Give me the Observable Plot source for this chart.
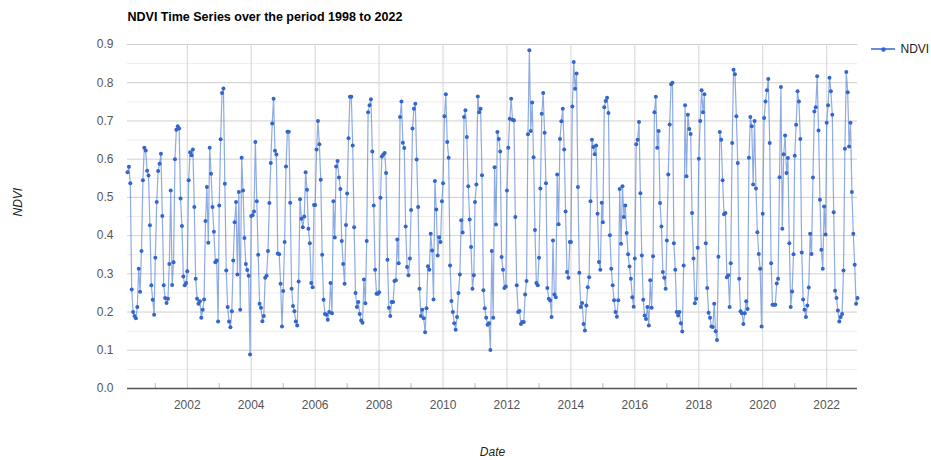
<!DOCTYPE html>
<html>
<head>
<meta charset="utf-8">
<script src="https://cdn.jsdelivr.net/npm/d3@7"></script>
<script src="https://cdn.jsdelivr.net/npm/@observablehq/plot@0.6"></script>
<style>
  html, body { margin: 0; padding: 0; background: #fff; }
  #chart svg { display: block; font-family: "Liberation Sans", Arial, sans-serif; }
</style>
</head>
<body>
<div id="chart"></div>
<script>
// 16-day composite NDVI values, one small array per year (composites start at day-of-year 1, 17, 33, ...)
const firstDoy2000 = 49; // series begins 18 Feb 2000
const ndvi2000 = [0.566, 0.58, 0.537, 0.259, 0.2, 0.19, 0.184, 0.213, 0.313, 0.253, 0.36, 0.545, 0.63, 0.623, 0.57, 0.557, 0.427, 0.27, 0.232, 0.193];
const ndvi2001 = [0.342, 0.488, 0.569, 0.588, 0.614, 0.451, 0.27, 0.237, 0.224, 0.235, 0.326, 0.518, 0.271, 0.33, 0.6, 0.677, 0.686, 0.68, 0.497, 0.425, 0.293, 0.27, 0.276];
const ndvi2002 = [0.307, 0.545, 0.618, 0.61, 0.625, 0.475, 0.287, 0.235, 0.222, 0.228, 0.185, 0.206, 0.233, 0.438, 0.527, 0.381, 0.63, 0.562, 0.475, 0.41, 0.33, 0.335, 0.175];
const ndvi2003 = [0.479, 0.652, 0.773, 0.785, 0.536, 0.309, 0.213, 0.175, 0.16, 0.202, 0.335, 0.435, 0.488, 0.298, 0.514, 0.206, 0.604, 0.518, 0.394, 0.326, 0.31, 0.295, 0.089];
const ndvi2004 = [0.451, 0.453, 0.463, 0.645, 0.49, 0.35, 0.222, 0.211, 0.176, 0.19, 0.29, 0.295, 0.36, 0.485, 0.59, 0.693, 0.758, 0.622, 0.612, 0.353, 0.351, 0.274, 0.162];
const ndvi2005 = [0.255, 0.383, 0.581, 0.672, 0.672, 0.486, 0.261, 0.216, 0.202, 0.175, 0.165, 0.28, 0.495, 0.444, 0.422, 0.45, 0.566, 0.52, 0.418, 0.38, 0.276, 0.265, 0.48];
const ndvi2006 = [0.48, 0.625, 0.7, 0.639, 0.546, 0.35, 0.232, 0.195, 0.193, 0.18, 0.2, 0.276, 0.197, 0.49, 0.395, 0.581, 0.595, 0.552, 0.522, 0.386, 0.326, 0.274, 0.428];
const ndvi2007 = [0.51, 0.655, 0.763, 0.763, 0.636, 0.422, 0.25, 0.213, 0.226, 0.195, 0.178, 0.172, 0.285, 0.223, 0.386, 0.723, 0.741, 0.757, 0.62, 0.479, 0.311, 0.248, 0.248];
const ndvi2008 = [0.252, 0.499, 0.607, 0.612, 0.616, 0.564, 0.337, 0.211, 0.19, 0.226, 0.226, 0.281, 0.283, 0.39, 0.328, 0.71, 0.751, 0.643, 0.629, 0.424, 0.318, 0.296, 0.34];
const ndvi2009 = [0.467, 0.68, 0.732, 0.745, 0.599, 0.475, 0.261, 0.19, 0.206, 0.184, 0.147, 0.21, 0.32, 0.311, 0.405, 0.361, 0.233, 0.543, 0.468, 0.348, 0.396, 0.383, 0.49];
const ndvi2010 = [0.537, 0.712, 0.77, 0.645, 0.604, 0.322, 0.229, 0.2, 0.171, 0.154, 0.187, 0.25, 0.298, 0.44, 0.408, 0.71, 0.728, 0.658, 0.529, 0.442, 0.37, 0.261, 0.296];
const ndvi2011 = [0.488, 0.534, 0.764, 0.723, 0.732, 0.558, 0.257, 0.21, 0.185, 0.167, 0.171, 0.101, 0.36, 0.185, 0.579, 0.429, 0.671, 0.653, 0.62, 0.344, 0.311, 0.263, 0.267];
const ndvi2012 = [0.518, 0.63, 0.706, 0.758, 0.703, 0.702, 0.449, 0.27, 0.2, 0.203, 0.169, 0.174, 0.174, 0.246, 0.281, 0.665, 0.885, 0.674, 0.748, 0.605, 0.415, 0.276, 0.27];
const ndvi2013 = [0.342, 0.523, 0.719, 0.773, 0.669, 0.537, 0.263, 0.235, 0.23, 0.187, 0.387, 0.246, 0.239, 0.56, 0.43, 0.653, 0.699, 0.732, 0.625, 0.463, 0.305, 0.29, 0.383];
const ndvi2014 = [0.383, 0.738, 0.854, 0.784, 0.824, 0.527, 0.303, 0.213, 0.224, 0.169, 0.152, 0.217, 0.265, 0.291, 0.49, 0.651, 0.632, 0.613, 0.636, 0.457, 0.331, 0.311, 0.486];
const ndvi2015 = [0.435, 0.736, 0.752, 0.761, 0.721, 0.401, 0.313, 0.27, 0.231, 0.2, 0.188, 0.231, 0.522, 0.379, 0.529, 0.449, 0.479, 0.407, 0.351, 0.319, 0.287, 0.239, 0.214];
const ndvi2016 = [0.34, 0.639, 0.651, 0.697, 0.511, 0.348, 0.232, 0.191, 0.182, 0.213, 0.165, 0.283, 0.211, 0.346, 0.723, 0.763, 0.63, 0.674, 0.485, 0.424, 0.305, 0.29, 0.261];
const ndvi2017 = [0.387, 0.56, 0.691, 0.796, 0.8, 0.38, 0.311, 0.2, 0.191, 0.2, 0.171, 0.149, 0.322, 0.741, 0.555, 0.716, 0.679, 0.666, 0.459, 0.34, 0.223, 0.235, 0.368];
const ndvi2018 = [0.601, 0.7, 0.78, 0.723, 0.77, 0.38, 0.263, 0.198, 0.185, 0.162, 0.161, 0.222, 0.15, 0.127, 0.345, 0.671, 0.651, 0.545, 0.456, 0.459, 0.291, 0.296, 0.213];
const ndvi2019 = [0.328, 0.642, 0.834, 0.822, 0.712, 0.59, 0.287, 0.202, 0.197, 0.169, 0.197, 0.228, 0.208, 0.604, 0.71, 0.686, 0.534, 0.7, 0.523, 0.409, 0.352, 0.313, 0.162];
const ndvi2020 = [0.457, 0.708, 0.751, 0.78, 0.81, 0.642, 0.328, 0.219, 0.219, 0.219, 0.275, 0.287, 0.553, 0.789, 0.418, 0.613, 0.662, 0.564, 0.603, 0.38, 0.213, 0.254, 0.351];
const ndvi2021 = [0.609, 0.69, 0.778, 0.751, 0.653, 0.356, 0.233, 0.206, 0.187, 0.217, 0.264, 0.405, 0.352, 0.552, 0.725, 0.736, 0.817, 0.675, 0.494, 0.363, 0.313, 0.476, 0.403];
const ndvi2022 = [0.695, 0.741, 0.813, 0.778, 0.716, 0.461, 0.256, 0.237, 0.204, 0.175, 0.187, 0.195, 0.309, 0.627, 0.828, 0.775, 0.633, 0.695, 0.514, 0.405, 0.324, 0.222, 0.237];

const yearSeries = [
  [2000, ndvi2000], [2001, ndvi2001], [2002, ndvi2002], [2003, ndvi2003], [2004, ndvi2004],
  [2005, ndvi2005], [2006, ndvi2006], [2007, ndvi2007], [2008, ndvi2008], [2009, ndvi2009],
  [2010, ndvi2010], [2011, ndvi2011], [2012, ndvi2012], [2013, ndvi2013], [2014, ndvi2014],
  [2015, ndvi2015], [2016, ndvi2016], [2017, ndvi2017], [2018, ndvi2018], [2019, ndvi2019],
  [2020, ndvi2020], [2021, ndvi2021], [2022, ndvi2022]
];
const compositeStep = 16;

const xTickYears = [2002, 2004, 2006, 2008, 2010, 2012, 2014, 2016, 2018, 2020, 2022];
const xMinorYears = [2001, 2003, 2005, 2007, 2009, 2011, 2013, 2015, 2017, 2019, 2021];
const yTicks = [0, 0.1, 0.2, 0.3, 0.4, 0.5, 0.6, 0.7, 0.8, 0.9];
const yMinorTicks = [0.05, 0.15, 0.25, 0.35, 0.45, 0.55, 0.65, 0.75, 0.85];

const titleText = "NDVI Time Series over the period 1998 to 2022";
const seriesName = "NDVI";
const xTitle = "Date";
const yTitle = "NDVI";

// Build table
const data = [];
for (const [year, vals] of yearSeries) {
  const startDoy = year === 2000 ? firstDoy2000 : 1;
  vals.forEach((v, i) => {
    data.push({date: new Date(Date.UTC(year, 0, startDoy + i * compositeStep)), ndvi: v});
  });
}
const yearDate = y => new Date(Date.UTC(y, 0, 1));

const blue = "#3366cc";
const font = "\"Liberation Sans\", Arial, sans-serif";

const chart = Plot.plot({
  width: 931,
  height: 460,
  marginLeft: 127,
  marginRight: 74,
  marginTop: 44,
  marginBottom: 72,
  style: {fontFamily: font, background: "#fff"},
  x: {type: "utc", domain: d3.extent(data, d => d.date)},
  y: {domain: [0, 0.9]},
  marks: [
    Plot.ruleY(yMinorTicks, {stroke: "#ececec", strokeWidth: 1}),
    Plot.ruleY(yTicks.slice(1), {stroke: "#cfcfcf", strokeWidth: 1}),
    Plot.ruleX(xTickYears.map(yearDate), {stroke: "#d4d4d4", strokeWidth: 1}),
    Plot.ruleX(xMinorYears.map(yearDate), {y1: 0, y2: 0.013, stroke: "#bbbbbb", strokeWidth: 1}),
    Plot.ruleY([0], {stroke: "#555", strokeWidth: 1.5}),
    Plot.axisY({ticks: yTicks, tickSize: 0, tickPadding: 14, tickFormat: d3.format(".1f"), fontSize: 12, fill: "#555", label: null}),
    Plot.axisX({ticks: xTickYears.map(yearDate), tickSize: 0, tickPadding: 12, tickFormat: d3.utcFormat("%Y"), fontSize: 12, fill: "#555", label: null}),
    Plot.line(data, {x: "date", y: "ndvi", stroke: blue, strokeOpacity: 0.55, strokeWidth: 1.2}),
    Plot.dot(data, {x: "date", y: "ndvi", r: 2, fill: blue, stroke: "none"}),
    Plot.text([titleText], {frameAnchor: "top-left", dy: -28, textAnchor: "start", lineAnchor: "middle", fontSize: 12.5, fontWeight: "bold", fill: "#000"}),
    Plot.text([yTitle], {frameAnchor: "left", dx: -109, rotate: -90, fontSize: 12, fontStyle: "italic", fill: "#222"}),
    Plot.text([xTitle], {frameAnchor: "bottom", dy: 64, lineAnchor: "middle", fontSize: 12, fontStyle: "italic", fill: "#222"}),
    Plot.text([seriesName], {frameAnchor: "top-right", dx: 43, dy: 5, textAnchor: "start", lineAnchor: "middle", fontSize: 12, fill: "#222"}),
    Plot.dot([seriesName], {frameAnchor: "top-right", dx: 26, dy: 5, r: 2.2, fill: blue, stroke: "none"})
  ]
});

// legend line segment beside the legend dot
const svg = d3.select(chart);
const lx = 931 - 74 + 26, ly = 44 + 5;
svg.insert("line", "g[aria-label=dot]:last-of-type")
  .attr("x1", lx - 12).attr("x2", lx + 12).attr("y1", ly).attr("y2", ly)
  .attr("stroke", blue).attr("stroke-width", 1.5);

document.getElementById("chart").append(chart);
</script>
</body>
</html>
